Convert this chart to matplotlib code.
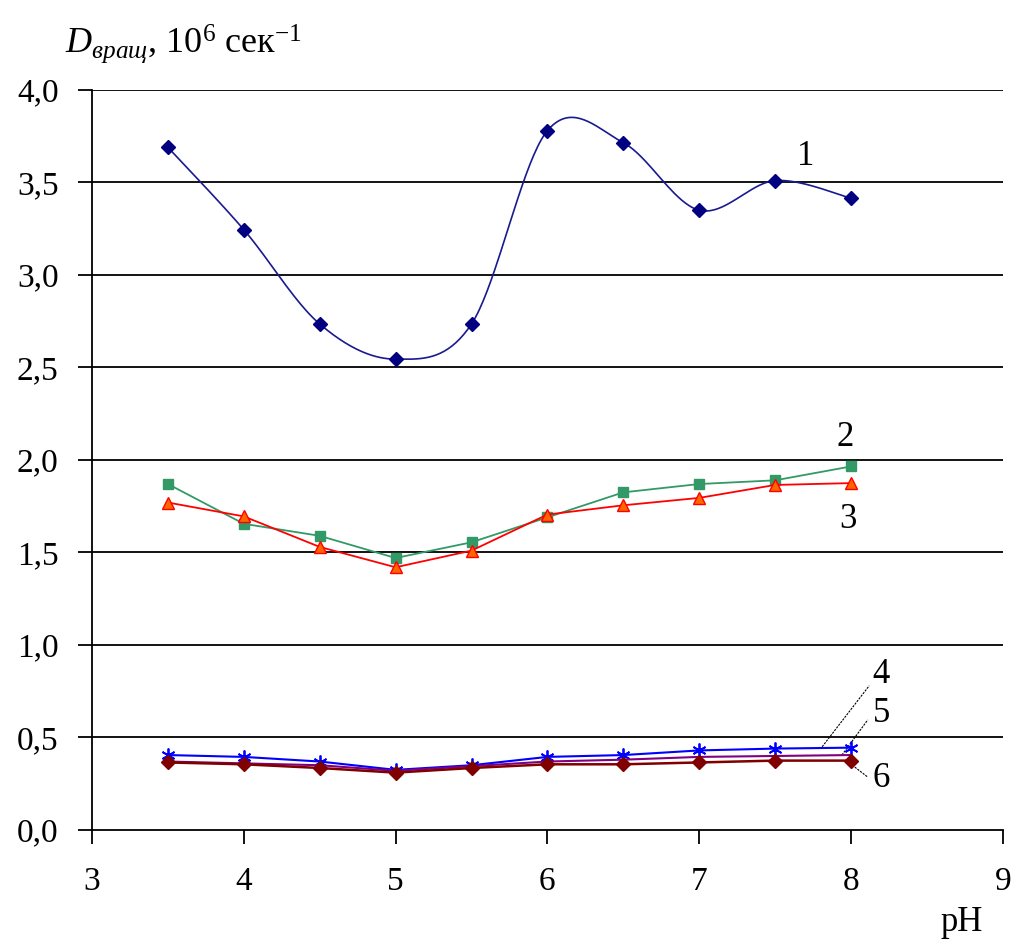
import numpy as np
import matplotlib
matplotlib.use('Agg')
import matplotlib.pyplot as plt

plt.rcParams['font.family'] = ['Liberation Serif', 'DejaVu Serif']
plt.rcParams['mathtext.fontset'] = 'custom'
plt.rcParams['mathtext.rm'] = 'Liberation Serif'
plt.rcParams['mathtext.it'] = 'Liberation Serif:italic'

ph = [3.5, 4.0, 4.5, 5.0, 5.5, 6.0, 6.5, 7.0, 7.5, 8.0]
s1 = [3.69, 3.245, 2.735, 2.545, 2.735, 3.78, 3.715, 3.35, 3.51, 3.415]
s2 = [1.87, 1.655, 1.59, 1.47, 1.555, 1.69, 1.825, 1.87, 1.89, 1.965]
s3 = [1.77, 1.695, 1.53, 1.42, 1.51, 1.705, 1.755, 1.795, 1.865, 1.875]
s4 = [0.405, 0.395, 0.37, 0.325, 0.35, 0.395, 0.405, 0.43, 0.44, 0.445]
s5 = [0.37, 0.36, 0.35, 0.32, 0.345, 0.37, 0.38, 0.395, 0.40, 0.405]
s6 = [0.365, 0.355, 0.335, 0.31, 0.335, 0.355, 0.355, 0.365, 0.375, 0.375]

y_ticks = [0.0, 0.5, 1.0, 1.5, 2.0, 2.5, 3.0, 3.5, 4.0]
x_ticks = [3, 4, 5, 6, 7, 8, 9]


def smooth(x, y, n=40):
    # catmull-rom, like excel's smoothed line
    x = np.asarray(x, float)
    y = np.asarray(y, float)
    px = np.concatenate([[x[0]], x, [x[-1]]])
    py = np.concatenate([[y[0]], y, [y[-1]]])
    xs, ys = [], []
    t = np.linspace(0, 1, n)
    for i in range(1, len(px) - 2):
        p0x, p1x, p2x, p3x = px[i - 1:i + 3]
        p0y, p1y, p2y, p3y = py[i - 1:i + 3]
        c1x, c1y = p1x + (p2x - p0x) / 6, p1y + (p2y - p0y) / 6
        c2x, c2y = p2x - (p3x - p1x) / 6, p2y - (p3y - p1y) / 6
        bx = (1 - t) ** 3 * p1x + 3 * (1 - t) ** 2 * t * c1x + 3 * (1 - t) * t ** 2 * c2x + t ** 3 * p2x
        by = (1 - t) ** 3 * p1y + 3 * (1 - t) ** 2 * t * c1y + 3 * (1 - t) * t ** 2 * c2y + t ** 3 * p2y
        xs.extend(bx)
        ys.extend(by)
    return xs, ys


fig = plt.figure(figsize=(10.14, 9.39), dpi=100)
ax = fig.add_axes([0.0907, 0.1161, 0.8983, 0.7881])

for v in y_ticks[1:]:
    ax.axhline(v, color='black', lw=1.3, zorder=1)

sx, sy = smooth(ph, s1)
ax.plot(sx, sy, color='#1a1a90', lw=1.2, zorder=3)
ax.plot(ph, s1, 'D', color='#000080', ms=7, zorder=4)

ax.plot(ph, s2, color='#339966', lw=1.3, marker='s', ms=7, mfc='#339966', mec='#339966', zorder=3)
ax.plot(ph, s3, color='#FF0000', lw=1.3, marker='^', ms=8, mfc='#FF6600', mec='#FF0000', zorder=3)

ax.plot(ph, s4, color='#0000FF', lw=1.5, marker=(6, 2, 0), ms=10, mew=1.3, zorder=3)
ax.plot(ph, s5, color='#800080', lw=1.5, zorder=3)
ax.plot(ph, s6, color='#800000', lw=1.8, marker='D', ms=7, zorder=4)

ax.set_xlim(3, 9)
ax.set_ylim(0, 4)
ax.set_xticks(x_ticks)
ax.set_yticks(y_ticks)
ax.set_yticklabels([f'{v:.1f}'.replace('.', ',') for v in y_ticks])
ax.tick_params(direction='out', length=10, width=1.3, labelsize=24, pad=14)
ax.tick_params(axis='x', pad=16)
for side in ['top', 'right']:
    ax.spines[side].set_visible(False)
for side in ['left', 'bottom']:
    ax.spines[side].set_linewidth(1.3)

fs = 25
ax.text(7.70, 3.64, '1', fontsize=fs, ha='center', va='center')
ax.text(7.96, 2.12, '2', fontsize=fs, ha='center', va='center')
ax.text(7.98, 1.68, '3', fontsize=fs, ha='center', va='center')
ax.text(8.2, 0.84, '4', fontsize=fs, ha='center', va='center')
ax.text(8.2, 0.63, '5', fontsize=fs, ha='center', va='center')
ax.text(8.2, 0.28, '6', fontsize=fs, ha='center', va='center')
ax.plot([7.81, 8.12], [0.45, 0.78], color='black', lw=0.8, ls=(0, (2, 1)))
ax.plot([7.94, 8.11], [0.405, 0.595], color='black', lw=0.8, ls=(0, (2, 1)))
ax.plot([7.99, 8.11], [0.362, 0.286], color='black', lw=0.8, ls=(0, (2, 1)))

fig.text(0.064, 0.953, r'$D_{\mathit{вращ}}$, 10$^6$ сек$^{\mathregular{-1}}$',
         fontsize=26, ha='left', va='center')
fig.text(0.948, 0.018, 'pH', fontsize=25, ha='center', va='center')

fig.savefig('out.png', dpi=100)
